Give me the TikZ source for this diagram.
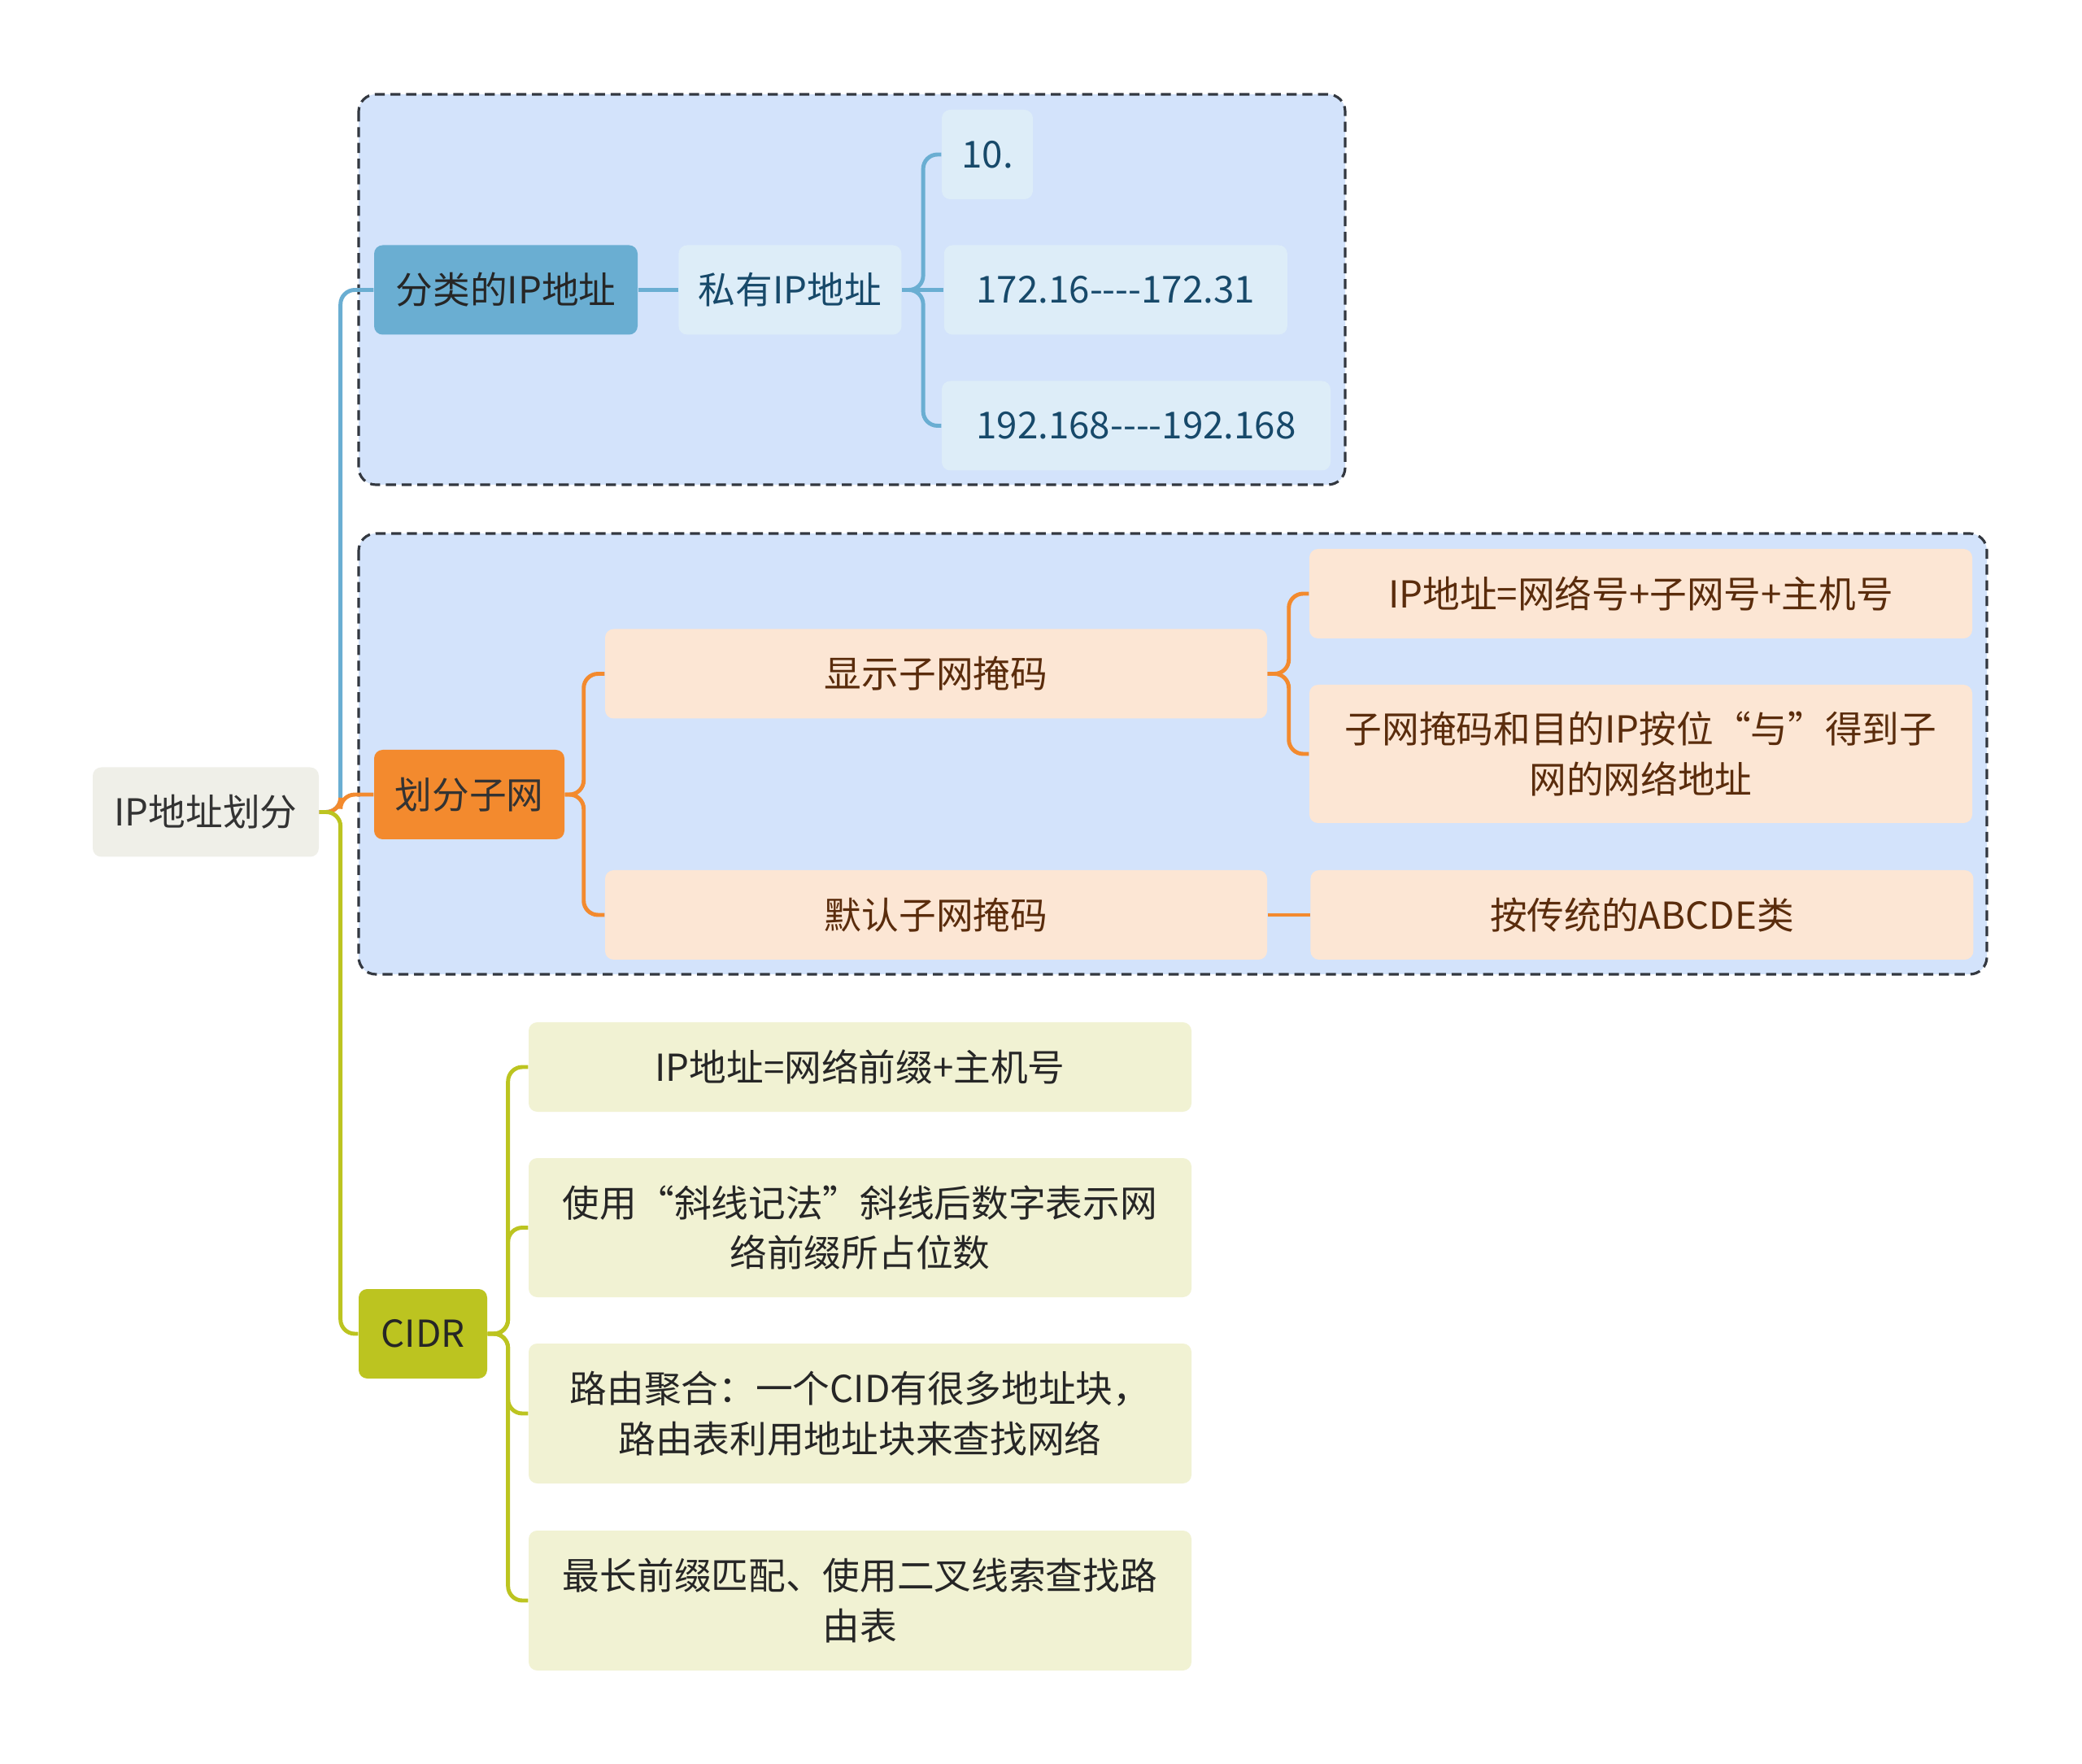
\documentclass[tikz,border=0pt]{standalone}
\usepackage{fontspec}
\setmainfont{Noto Sans CJK SC}[Ligatures=TeXOff]
\usepackage{xcolor}
\usetikzlibrary{positioning}

\definecolor{groupfill}{HTML}{D3E3FB}
\definecolor{groupline}{HTML}{333840}
\definecolor{rootfill}{HTML}{EFEFE8}
\definecolor{bluemain}{HTML}{6AAED2}
\definecolor{bluelight}{HTML}{DDEDF8}
\definecolor{bluetext}{HTML}{17496A}
\definecolor{orangemain}{HTML}{F38A2E}
\definecolor{peach}{HTML}{FCE6D4}
\definecolor{browntext}{HTML}{5A2C0C}
\definecolor{olivemain}{HTML}{BCC420}
\definecolor{olivelight}{HTML}{F1F2D3}

\begin{document}
\begin{tikzpicture}[
    box/.style={
        rectangle,
        rounded corners=3pt,
        inner sep=0pt,
        align=center,
        minimum height=1.1cm,
        font=\fontsize{13}{17.6}\selectfont
    },
    group/.style={
        draw=groupline,
        fill=groupfill,
        dash pattern=on 3.5pt off 2pt,
        line width=0.9pt,
        rounded corners=6pt
    },
    blueedge/.style={draw=bluemain, line width=1.4pt, rounded corners=5pt},
    orangeedge/.style={draw=orangemain, line width=1.4pt, rounded corners=5pt},
    oliveedge/.style={draw=olivemain, line width=1.4pt, rounded corners=5pt}
]

\useasboundingbox (0,0) rectangle (25.6,-21.69);
\fill[white] (0,0) rectangle (25.6,-21.69);

\draw[group] (4.41,-1.16) rectangle (16.54,-5.96);
\draw[group] (4.41,-6.56) rectangle (24.43,-11.98);

\node[box, fill=rootfill, text=black!80, minimum width=2.78cm] (root) at (2.53,-9.985) {IP地址划分};

\node[box, fill=bluemain, text=black!85, minimum width=3.24cm] (classful) at (6.22,-3.565) {分类的IP地址};
\node[box, fill=bluelight, text=bluetext, minimum width=2.74cm, right=0.49cm of classful] (private) {私有IP地址};
\node[box, fill=bluelight, text=bluetext, minimum width=1.12cm] (ten) at (12.14,-1.90) {10.};
\node[box, fill=bluelight, text=bluetext, minimum width=4.22cm, right=0.51cm of private] (range172) {172.16----172.31};
\node[box, fill=bluelight, text=bluetext, minimum width=4.78cm] (range192) at (13.97,-5.235) {192.168----192.168};

\node[box, fill=orangemain, text=black!80, minimum width=2.34cm] (subnet) at (5.77,-9.77) {划分子网};
\node[box, fill=peach, text=browntext, minimum width=8.14cm] (explicit) at (11.51,-8.285) {显示子网掩码};
\node[box, fill=peach, text=browntext, minimum width=8.15cm] (netno) at (20.175,-7.30) {IP地址=网络号+子网号+主机号};
\node[box, fill=peach, text=browntext, minimum width=8.15cm, minimum height=1.70cm] (andrule) at (20.175,-9.27) {子网掩码和目的IP按位“与”得到子\\网的网络地址};
\node[box, fill=peach, text=browntext, minimum width=8.14cm] (default) at (11.51,-11.25) {默认子网掩码};
\node[box, fill=peach, text=browntext, minimum width=8.15cm, right=0.52cm of default] (abcde) {按传统的ABCDE类};

\node[box, fill=olivemain, text=black!85, minimum width=1.58cm] (cidr) at (5.20,-16.40) {CIDR};
\node[box, fill=olivelight, text=black!85, minimum width=8.15cm] (prefix) at (10.575,-13.12) {IP地址=网络前缀+主机号};
\node[box, fill=olivelight, text=black!85, minimum width=8.15cm, minimum height=1.71cm] (slash) at (10.575,-15.095) {使用“斜线记法”斜线后数字表示网\\络前缀所占位数};
\node[box, fill=olivelight, text=black!85, minimum width=8.15cm, minimum height=1.72cm] (aggregate) at (10.575,-17.38) {路由聚合：一个CID有很多地址块，\\路由表利用地址块来查找网络};
\node[box, fill=olivelight, text=black!85, minimum width=8.15cm, minimum height=1.72cm] (longest) at (10.575,-19.68) {最长前缀匹配、使用二叉线索查找路\\由表};

\draw[blueedge] (root.east) -- ++(0.26,0) |- (classful.west);
\draw[orangeedge] (root.east) -- ++(0.26,0) |- (subnet.west);
\draw[oliveedge] (root.east) -- ++(0.26,0) |- (cidr.west);

\draw[blueedge] (classful) -- (private);
\draw[blueedge] (private.east) -- ++(0.26,0) |- (ten.west);
\draw[blueedge] (private.east) -- (range172.west);
\draw[blueedge] (private.east) -- ++(0.26,0) |- (range192.west);

\draw[orangeedge] (subnet.east) -- ++(0.23,0) |- (explicit.west);
\draw[orangeedge] (subnet.east) -- ++(0.23,0) |- (default.west);
\draw[orangeedge] (explicit.east) -- ++(0.26,0) |- (netno.west);
\draw[orangeedge] (explicit.east) -- ++(0.26,0) |- (andrule.west);
\draw[orangeedge] (default) -- (abcde);

\draw[oliveedge] (cidr.east) -- ++(0.25,0) |- (prefix.west);
\draw[oliveedge] (cidr.east) -- ++(0.25,0) |- (slash.west);
\draw[oliveedge] (cidr.east) -- ++(0.25,0) |- (aggregate.west);
\draw[oliveedge] (cidr.east) -- ++(0.25,0) |- (longest.west);

\end{tikzpicture}
\end{document}
